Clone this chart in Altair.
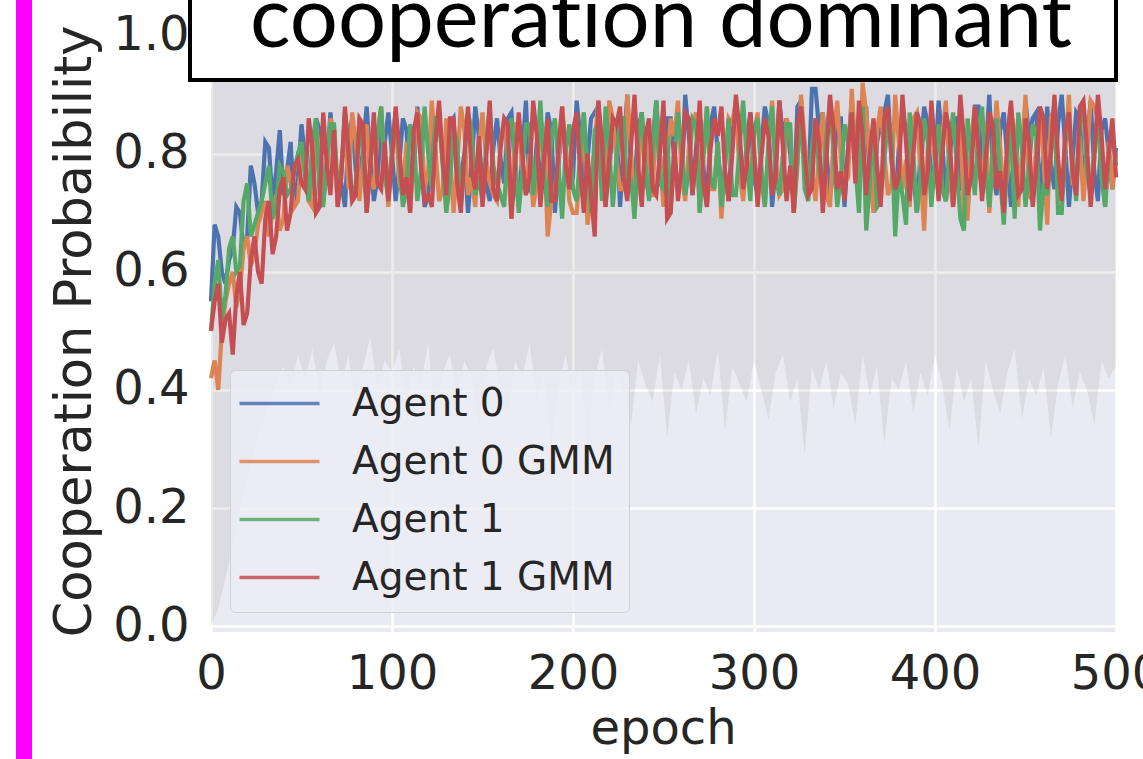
import altair as alt
import pandas as pd

# Cooperation probability per agent. The "even" lists hold epochs 0, 4, ..., 500,
# the "mid" lists the epochs in between (2, 6, ..., 498).
agent0_even = [0.55, 0.66, 0.58, 0.64, 0.70, 0.66, 0.75, 0.72, 0.81, 0.77, 0.73, 0.82, 0.76,
               0.79, 0.74, 0.84, 0.78, 0.80, 0.75, 0.83, 0.77, 0.81, 0.79, 0.76, 0.82, 0.80,
               0.78, 0.84, 0.77, 0.80, 0.73, 0.82, 0.79, 0.85, 0.76, 0.80, 0.78, 0.83, 0.75,
               0.81, 0.79, 0.86, 0.77, 0.80, 0.74, 0.82, 0.79, 0.84, 0.78, 0.81, 0.76,
               0.83, 0.79, 0.87, 0.80, 0.77, 0.85, 0.81, 0.78, 0.84, 0.76, 0.82, 0.80, 0.86,
               0.79, 0.75, 0.83, 0.81, 0.78, 0.85, 0.80, 0.77, 0.84, 0.79, 0.82, 0.76,
               0.81, 0.85, 0.78, 0.83, 0.80, 0.88, 0.79, 0.91, 0.84, 0.80, 0.77, 0.86, 0.81,
               0.78, 0.83, 0.75, 0.82, 0.87, 0.79, 0.81, 0.84, 0.77, 0.80, 0.85, 0.78,
               0.82, 0.79, 0.86, 0.74, 0.81, 0.88, 0.80, 0.77, 0.84, 0.79, 0.82, 0.75, 0.83,
               0.87, 0.80, 0.78, 0.85, 0.81, 0.79, 0.86, 0.82, 0.77, 0.84, 0.80, 0.81]
agent0_mid = [0.68, 0.60, 0.62, 0.71, 0.64, 0.78, 0.70, 0.82, 0.72, 0.84, 0.77, 0.71, 0.85,
              0.73, 0.86, 0.72, 0.87, 0.75, 0.71, 0.86, 0.74, 0.88, 0.72, 0.85, 0.87,
              0.72, 0.86, 0.74, 0.88, 0.71, 0.84, 0.87, 0.73, 0.86, 0.76, 0.70, 0.88, 0.74,
              0.72, 0.86, 0.75, 0.87, 0.71, 0.89, 0.73, 0.76, 0.87, 0.70, 0.86, 0.74,
              0.89, 0.73, 0.86, 0.88, 0.72, 0.85, 0.71, 0.90, 0.75, 0.87, 0.73, 0.89, 0.72,
              0.86, 0.74, 0.90, 0.73, 0.87, 0.71, 0.88, 0.75, 0.72, 0.89, 0.74, 0.87,
              0.73, 0.88, 0.71, 0.89, 0.86, 0.72, 0.89, 0.74, 0.91, 0.87, 0.73, 0.86, 0.71,
              0.89, 0.75, 0.88, 0.72, 0.85, 0.90, 0.71, 0.87, 0.74, 0.70, 0.88, 0.75,
              0.89, 0.72, 0.86, 0.74, 0.70, 0.88, 0.75, 0.90, 0.73, 0.87, 0.71, 0.75, 0.89,
              0.86, 0.72, 0.88, 0.74, 0.90, 0.71, 0.87, 0.74, 0.89, 0.72, 0.86, 0.74]

agent0_gmm_even = [0.42, 0.40, 0.55, 0.60, 0.57, 0.66, 0.63, 0.70, 0.66, 0.73, 0.69, 0.75, 0.72,
                   0.77, 0.71, 0.80, 0.76, 0.84, 0.78, 0.74, 0.82, 0.79, 0.76, 0.83, 0.78, 0.80,
                   0.75, 0.82, 0.79, 0.86, 0.77, 0.81, 0.74, 0.80, 0.78, 0.84, 0.76, 0.81, 0.79,
                   0.73, 0.82, 0.78, 0.85, 0.77, 0.80, 0.75, 0.83, 0.72, 0.79, 0.81, 0.70,
                   0.78, 0.68, 0.82, 0.76, 0.89, 0.79, 0.74, 0.81, 0.77, 0.84, 0.73, 0.80, 0.78,
                   0.83, 0.76, 0.81, 0.87, 0.79, 0.74, 0.82, 0.78, 0.85, 0.77, 0.80, 0.83,
                   0.76, 0.81, 0.79, 0.74, 0.84, 0.78, 0.82, 0.77, 0.80, 0.73, 0.83, 0.79, 0.76,
                   0.81, 0.92, 0.78, 0.84, 0.80, 0.75, 0.82, 0.79, 0.86, 0.77, 0.81, 0.78,
                   0.83, 0.76, 0.80, 0.69, 0.82, 0.78, 0.85, 0.79, 0.81, 0.76, 0.84, 0.80, 0.73,
                   0.82, 0.79, 0.86, 0.77, 0.81, 0.75, 0.83, 0.80, 0.88, 0.78, 0.82, 0.80]
agent0_gmm_mid = [0.45, 0.50, 0.58, 0.54, 0.64, 0.61, 0.68, 0.72, 0.70, 0.67, 0.78, 0.71, 0.80,
                  0.72, 0.85, 0.73, 0.86, 0.71, 0.84, 0.87, 0.72, 0.85, 0.74, 0.88, 0.71,
                  0.86, 0.73, 0.70, 0.87, 0.74, 0.89, 0.72, 0.86, 0.70, 0.88, 0.73, 0.71, 0.87,
                  0.75, 0.72, 0.86, 0.69, 0.85, 0.73, 0.71, 0.86, 0.66, 0.74, 0.88, 0.72,
                  0.70, 0.87, 0.73, 0.89, 0.71, 0.86, 0.74, 0.90, 0.70, 0.85, 0.73, 0.88, 0.71,
                  0.86, 0.89, 0.72, 0.85, 0.70, 0.88, 0.74, 0.69, 0.86, 0.89, 0.72, 0.75,
                  0.87, 0.71, 0.89, 0.73, 0.86, 0.70, 0.90, 0.74, 0.72, 0.87, 0.71, 0.89, 0.75,
                  0.91, 0.73, 0.87, 0.70, 0.88, 0.73, 0.90, 0.74, 0.71, 0.87, 0.67, 0.85,
                  0.73, 0.89, 0.71, 0.86, 0.69, 0.88, 0.74, 0.70, 0.89, 0.73, 0.87, 0.71, 0.90,
                  0.72, 0.86, 0.68, 0.88, 0.73, 0.90, 0.75, 0.72, 0.89, 0.86, 0.71, 0.74]

agent1_even = [0.50, 0.62, 0.56, 0.66, 0.61, 0.75, 0.68, 0.72, 0.78, 0.71, 0.77, 0.74, 0.80,
               0.76, 0.82, 0.73, 0.79, 0.85, 0.77, 0.81, 0.75, 0.80, 0.78, 0.83, 0.76, 0.81,
               0.79, 0.74, 0.83, 0.77, 0.80, 0.86, 0.78, 0.75, 0.82, 0.79, 0.84, 0.76, 0.81,
               0.78, 0.73, 0.82, 0.80, 0.77, 0.85, 0.79, 0.76, 0.83, 0.78, 0.81, 0.74,
               0.80, 0.77, 0.84, 0.72, 0.81, 0.79, 0.86, 0.76, 0.82, 0.78, 0.80, 0.75, 0.83,
               0.79, 0.81, 0.77, 0.85, 0.80, 0.76, 0.82, 0.78, 0.73, 0.81, 0.79, 0.84,
               0.78, 0.82, 0.76, 0.80, 0.85, 0.79, 0.74, 0.81, 0.77, 0.83, 0.80, 0.76, 0.82,
               0.78, 0.88, 0.75, 0.71, 0.79, 0.83, 0.77, 0.68, 0.80, 0.76, 0.82, 0.79,
               0.74, 0.81, 0.78, 0.67, 0.80, 0.84, 0.77, 0.82, 0.76, 0.79, 0.69, 0.81, 0.78,
               0.83, 0.75, 0.80, 0.70, 0.82, 0.79, 0.85, 0.77, 0.81, 0.76, 0.80, 0.78]
agent1_mid = [0.58, 0.52, 0.64, 0.60, 0.72, 0.66, 0.70, 0.75, 0.69, 0.78, 0.73, 0.77, 0.82,
              0.72, 0.86, 0.71, 0.85, 0.74, 0.87, 0.72, 0.86, 0.70, 0.84, 0.88, 0.73,
              0.87, 0.71, 0.85, 0.72, 0.88, 0.74, 0.86, 0.70, 0.84, 0.71, 0.87, 0.73, 0.72,
              0.88, 0.75, 0.71, 0.86, 0.70, 0.85, 0.73, 0.89, 0.71, 0.86, 0.69, 0.85,
              0.72, 0.87, 0.70, 0.85, 0.88, 0.71, 0.86, 0.73, 0.69, 0.87, 0.72, 0.89, 0.74,
              0.71, 0.87, 0.73, 0.86, 0.70, 0.88, 0.74, 0.71, 0.86, 0.73, 0.89, 0.72,
              0.86, 0.71, 0.88, 0.73, 0.85, 0.70, 0.88, 0.72, 0.86, 0.74, 0.89, 0.71, 0.85,
              0.87, 0.70, 0.67, 0.85, 0.72, 0.86, 0.66, 0.73, 0.87, 0.70, 0.86, 0.71,
              0.85, 0.72, 0.87, 0.69, 0.86, 0.73, 0.88, 0.71, 0.86, 0.68, 0.84, 0.87, 0.71,
              0.85, 0.67, 0.73, 0.87, 0.70, 0.85, 0.72, 0.88, 0.73, 0.86, 0.71, 0.84]

agent1_gmm_even = [0.50, 0.58, 0.52, 0.46, 0.60, 0.53, 0.66, 0.58, 0.72, 0.66, 0.76, 0.70, 0.79,
                   0.74, 0.81, 0.71, 0.78, 0.84, 0.76, 0.80, 0.73, 0.85, 0.78, 0.75, 0.82, 0.79,
                   0.81, 0.76, 0.84, 0.78, 0.73, 0.82, 0.79, 0.86, 0.75, 0.80, 0.77, 0.83, 0.79,
                   0.74, 0.81, 0.85, 0.78, 0.80, 0.76, 0.83, 0.79, 0.72, 0.81, 0.78, 0.84,
                   0.77, 0.80, 0.66, 0.82, 0.79, 0.85, 0.76, 0.81, 0.78, 0.83, 0.74, 0.80, 0.69,
                   0.82, 0.78, 0.86, 0.79, 0.75, 0.81, 0.83, 0.77, 0.80, 0.84, 0.78, 0.81,
                   0.79, 0.83, 0.76, 0.81, 0.78, 0.85, 0.80, 0.74, 0.82, 0.79, 0.84, 0.77, 0.81,
                   0.75, 0.83, 0.80, 0.78, 0.86, 0.79, 0.76, 0.82, 0.80, 0.85, 0.77, 0.81,
                   0.80, 0.84, 0.78, 0.82, 0.76, 0.81, 0.79, 0.85, 0.77, 0.83, 0.80, 0.74, 0.82,
                   0.78, 0.86, 0.80, 0.79, 0.84, 0.77, 0.88, 0.81, 0.79, 0.83, 0.80, 0.76]
agent1_gmm_mid = [0.55, 0.48, 0.53, 0.56, 0.51, 0.62, 0.60, 0.69, 0.63, 0.74, 0.67, 0.78, 0.75,
                  0.86, 0.70, 0.87, 0.73, 0.71, 0.88, 0.72, 0.86, 0.70, 0.87, 0.74, 0.72,
                  0.88, 0.73, 0.70, 0.87, 0.72, 0.71, 0.89, 0.73, 0.86, 0.70, 0.88, 0.74, 0.71,
                  0.89, 0.72, 0.86, 0.69, 0.87, 0.73, 0.89, 0.71, 0.86, 0.72, 0.88, 0.74,
                  0.87, 0.70, 0.73, 0.89, 0.71, 0.86, 0.88, 0.72, 0.90, 0.71, 0.86, 0.73, 0.89,
                  0.70, 0.72, 0.87, 0.73, 0.89, 0.71, 0.86, 0.88, 0.72, 0.90, 0.74, 0.87,
                  0.71, 0.86, 0.73, 0.89, 0.72, 0.70, 0.88, 0.73, 0.86, 0.70, 0.90, 0.74, 0.72,
                  0.87, 0.89, 0.73, 0.86, 0.71, 0.88, 0.74, 0.90, 0.72, 0.87, 0.73, 0.89,
                  0.72, 0.87, 0.71, 0.90, 0.73, 0.88, 0.72, 0.87, 0.74, 0.70, 0.89, 0.73, 0.86,
                  0.71, 0.88, 0.74, 0.90, 0.72, 0.87, 0.73, 0.89, 0.71, 0.90, 0.74, 0.86]

# lower edge of the shaded spread across runs, epochs 0, 4, ..., 500
band_epochs = list(range(0, 501, 4))
band_low = [0.0, 0.03, 0.08, 0.14, 0.2, 0.25, 0.3, 0.34, 0.38, 0.41, 0.44, 0.4, 0.46,
            0.42, 0.47, 0.39, 0.45, 0.48, 0.41, 0.46, 0.37, 0.44, 0.49, 0.4, 0.45, 0.43,
            0.47, 0.38, 0.44, 0.41, 0.48, 0.35, 0.43, 0.46, 0.39, 0.45, 0.42, 0.33, 0.44,
            0.47, 0.4, 0.36, 0.45, 0.42, 0.48, 0.38, 0.43, 0.31, 0.41, 0.46, 0.39,
            0.44, 0.3, 0.42, 0.47, 0.37, 0.43, 0.4, 0.34, 0.45, 0.41, 0.38, 0.46, 0.32,
            0.43, 0.4, 0.45, 0.36, 0.42, 0.39, 0.47, 0.33, 0.44, 0.41, 0.38, 0.45,
            0.4, 0.35, 0.43, 0.46, 0.38, 0.42, 0.29, 0.44, 0.4, 0.45, 0.37, 0.43, 0.41,
            0.34, 0.46, 0.39, 0.44, 0.31, 0.42, 0.4, 0.45, 0.36, 0.43, 0.39, 0.46,
            0.41, 0.33, 0.44, 0.38, 0.42, 0.3, 0.45, 0.4, 0.36, 0.43, 0.47, 0.35, 0.42,
            0.39, 0.44, 0.32, 0.41, 0.46, 0.37, 0.43, 0.4, 0.34, 0.45, 0.42, 0.44]

series_names = ["Agent 0", "Agent 0 GMM", "Agent 1", "Agent 1 GMM"]
series_parts = [
    (agent0_even, agent0_mid),
    (agent0_gmm_even, agent0_gmm_mid),
    (agent1_even, agent1_mid),
    (agent1_gmm_even, agent1_gmm_mid),
]
palette = ["#4C72B0", "#DD8452", "#55A868", "#C44E52"]

y_ticks = [0.0, 0.2, 0.4, 0.6, 0.8, 1.0]
x_ticks = [0, 100, 200, 300, 400, 500]
# zero-width non-joiner keeps the "ti" pair from fusing into a ligature
panel_title = "cooperat\u200cion dominant"


def interleave(even, mid):
    out = []
    for a, b in zip(even, mid):
        out += [a, b]
    out.append(even[-1])
    return out


epochs = list(range(0, 501, 2))
rows = []
for name, (even, mid) in zip(series_names, series_parts):
    for e, v in zip(epochs, interleave(even, mid)):
        rows.append({"epoch": e, "prob": v, "series": name})
lines_df = pd.DataFrame(rows)
band_df = pd.DataFrame({"epoch": band_epochs, "low": band_low})

W, H = 905, 614
FONT = "DejaVu Sans"
INK = "#262626"

x_scale = alt.Scale(domain=[0, 500], nice=False, zero=False)
y_scale = alt.Scale(domain=[-0.01, 1.03], nice=False, zero=False)

band = alt.Chart(band_df).mark_area(color="#A09AA0", opacity=0.19).encode(
    x=alt.X("epoch:Q", scale=x_scale),
    y=alt.Y("low:Q", scale=y_scale),
    y2=alt.datum(1.03),
)

lines = alt.Chart(lines_df).mark_line(strokeWidth=4.2).encode(
    x=alt.X(
        "epoch:Q",
        scale=x_scale,
        axis=alt.Axis(
            values=x_ticks, format="d", title="epoch",
            labelFontSize=48, labelFont=FONT, labelColor=INK, labelPadding=18,
            labelFlush=False, ticks=False, tickSize=0, domain=False,
            grid=True, gridColor="white", gridWidth=2.5,
            titleFontSize=48, titleFont=FONT, titleFontWeight="normal",
            titleColor=INK, titleX=452, titleY=111, titleBaseline="alphabetic",
            titleAlign="center",
        ),
    ),
    y=alt.Y(
        "prob:Q",
        scale=y_scale,
        axis=alt.Axis(
            values=y_ticks, format=".1f", title="Cooperation Probaibility",
            labelFontSize=48, labelFont=FONT, labelColor=INK, labelPadding=22,
            ticks=False, tickSize=0, domain=False,
            grid=True, gridColor="white", gridWidth=2.5,
            titleFontSize=51, titleFont=FONT, titleFontWeight="normal",
            titleColor=INK, titleAngle=270, titleX=-121, titleY=313,
            titleBaseline="alphabetic", titleAlign="center",
        ),
    ),
    color=alt.Color(
        "series:N",
        scale=alt.Scale(domain=series_names, range=palette),
        legend=alt.Legend(
            title=None, orient="none", legendX=19, legendY=352,
            fillColor="rgba(236,236,244,0.85)", strokeColor="#CFCFD6",
            cornerRadius=5, padding=14,
            symbolType="M-4,0H4", symbolSize=400, symbolStrokeWidth=3.5,
            symbolOffset=16, symbolOpacity=0.85,
            labelOffset=53, labelFontSize=39, labelFont=FONT, labelColor=INK,
            labelLimit=0, rowPadding=18,
        ),
    ),
)

one = pd.DataFrame({"k": [0]})

title_box = alt.Chart(one).mark_rect(fill="white", stroke="black", strokeWidth=4).encode(
    x=alt.value(-21), x2=alt.value(905), y=alt.value(-120), y2=alt.value(62)
)
title_text = alt.Chart(pd.DataFrame({"t": [panel_title]})).mark_text(
    font="Lato", fontSize=85, color="black", align="center", baseline="alphabetic"
).encode(x=alt.value(450), y=alt.value(29), text="t:N")

side_bar = alt.Chart(one).mark_rect(fill="#FF00FF").encode(
    x=alt.value(-195), x2=alt.value(-179), y=alt.value(-30), y2=alt.value(760)
)

chart = alt.layer(band, lines, title_box, title_text, side_bar).properties(
    width=W, height=H,
    autosize=alt.AutoSizeParams(type="none"),
    padding={"left": 211, "top": 18, "right": 27, "bottom": 127},
    background="white",
).configure_view(fill="#EAEAF2", stroke=None)

chart.save("out.html", embed_options={"renderer": "svg", "actions": False})
